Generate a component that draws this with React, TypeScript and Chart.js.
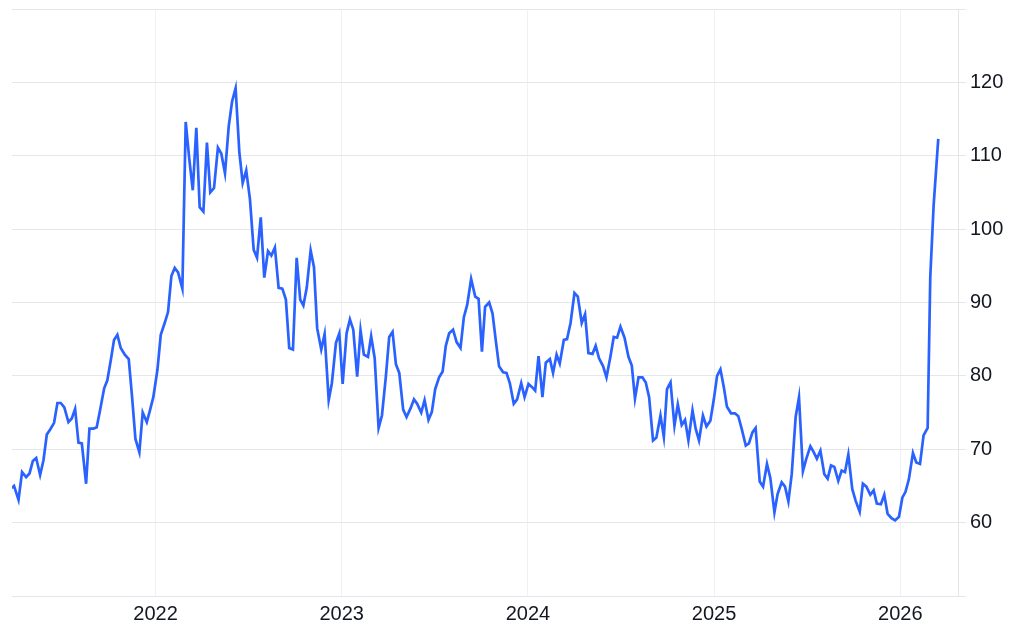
import React, { useEffect, useRef } from "react";
import { Chart, registerables } from "chart.js";

Chart.register(...registerables);

// Decimal-year timestamps of the weekly observations
const dates: number[] = [
  2021.228, 2021.240, 2021.264, 2021.283, 2021.305, 2021.323, 2021.341, 2021.359, 2021.380, 2021.398,
  2021.416, 2021.434, 2021.455, 2021.473, 2021.491, 2021.510, 2021.532, 2021.550, 2021.568, 2021.586,
  2021.604, 2021.627, 2021.645, 2021.666, 2021.684, 2021.702, 2021.724, 2021.741, 2021.760, 2021.777,
  2021.795, 2021.813, 2021.835, 2021.856, 2021.874, 2021.892, 2021.913, 2021.931, 2021.953, 2021.970,
  2021.988, 2022.010, 2022.028, 2022.049, 2022.067, 2022.085, 2022.103, 2022.121, 2022.144, 2022.162,
  2022.181, 2022.200, 2022.219, 2022.237, 2022.257, 2022.276, 2022.294, 2022.314, 2022.335, 2022.353,
  2022.373, 2022.393, 2022.411, 2022.430, 2022.450, 2022.468, 2022.487, 2022.507, 2022.527, 2022.545,
  2022.565, 2022.584, 2022.604, 2022.622, 2022.641, 2022.661, 2022.681, 2022.700, 2022.718, 2022.738,
  2022.758, 2022.777, 2022.794, 2022.812, 2022.833, 2022.851, 2022.868, 2022.890, 2022.908, 2022.930,
  2022.947, 2022.969, 2022.987, 2023.005, 2023.026, 2023.044, 2023.062, 2023.083, 2023.101, 2023.119,
  2023.141, 2023.158, 2023.177, 2023.198, 2023.216, 2023.237, 2023.255, 2023.273, 2023.291, 2023.309,
  2023.330, 2023.348, 2023.370, 2023.388, 2023.405, 2023.427, 2023.445, 2023.466, 2023.484, 2023.502,
  2023.523, 2023.542, 2023.559, 2023.577, 2023.598, 2023.617, 2023.638, 2023.656, 2023.674, 2023.695,
  2023.717, 2023.735, 2023.753, 2023.770, 2023.792, 2023.810, 2023.828, 2023.845, 2023.867, 2023.885,
  2023.903, 2023.924, 2023.942, 2023.964, 2023.982, 2024.003, 2024.021, 2024.039, 2024.057, 2024.078,
  2024.096, 2024.118, 2024.135, 2024.154, 2024.171, 2024.193, 2024.210, 2024.229, 2024.250, 2024.268,
  2024.289, 2024.307, 2024.325, 2024.347, 2024.364, 2024.382, 2024.404, 2024.422, 2024.443, 2024.461,
  2024.479, 2024.497, 2024.519, 2024.540, 2024.558, 2024.575, 2024.594, 2024.615, 2024.633, 2024.651,
  2024.672, 2024.690, 2024.712, 2024.730, 2024.747, 2024.766, 2024.787, 2024.805, 2024.826, 2024.844,
  2024.862, 2024.884, 2024.901, 2024.919, 2024.940, 2024.959, 2024.980, 2024.998, 2025.016, 2025.034,
  2025.052, 2025.069, 2025.091, 2025.112, 2025.130, 2025.148, 2025.170, 2025.187, 2025.206, 2025.223,
  2025.245, 2025.263, 2025.284, 2025.302, 2025.324, 2025.341, 2025.363, 2025.381, 2025.399, 2025.417,
  2025.438, 2025.456, 2025.477, 2025.495, 2025.517, 2025.535, 2025.552, 2025.571, 2025.592, 2025.610,
  2025.628, 2025.646, 2025.667, 2025.685, 2025.703, 2025.721, 2025.742, 2025.760, 2025.782, 2025.799,
  2025.818, 2025.839, 2025.857, 2025.874, 2025.896, 2025.914, 2025.932, 2025.953, 2025.972, 2025.993,
  2026.011, 2026.028, 2026.046, 2026.068, 2026.086, 2026.106, 2026.125, 2026.147, 2026.161, 2026.179,
  2026.204,
];

// Index values
const values: number[] = [
  64.7, 65.0, 63.1, 66.9, 66.2, 66.7, 68.4, 68.8, 66.5, 68.5,
  72.0, 72.7, 73.6, 76.3, 76.3, 75.7, 73.7, 74.2, 75.5, 70.9,
  70.8, 65.3, 72.8, 72.8, 73.0, 75.3, 78.3, 79.4, 82.2, 84.9,
  85.6, 83.8, 82.9, 82.3, 77.1, 71.4, 69.6, 75.0, 73.7, 75.3,
  77.1, 80.8, 85.6, 87.2, 88.7, 93.6, 94.7, 94.1, 91.9, 114.6,
  109.6, 105.3, 113.8, 103.0, 102.4, 111.8, 105.0, 105.6, 111.1, 110.3,
  107.6, 114.0, 117.4, 119.2, 110.5, 106.3, 108.0, 104.1, 97.2, 96.1,
  101.6, 93.4, 97.0, 96.4, 97.5, 92.0, 91.9, 90.4, 83.8, 83.6,
  96.1, 90.4, 89.6, 92.0, 97.1, 94.8, 86.5, 83.6, 85.7, 76.7,
  79.0, 84.5, 85.8, 78.9, 85.8, 87.7, 86.3, 79.9, 86.2, 82.9,
  82.6, 85.4, 82.4, 72.9, 74.6, 79.9, 85.3, 86.0, 81.6, 80.4,
  75.4, 74.4, 75.6, 76.8, 76.2, 75.0, 76.7, 74.0, 75.1, 78.2,
  79.8, 80.6, 84.1, 85.8, 86.3, 84.6, 83.8, 88.0, 89.7, 93.2,
  90.8, 90.5, 83.3, 89.4, 90.0, 88.5, 84.7, 81.3, 80.5, 80.4,
  79.0, 76.2, 76.8, 79.0, 77.1, 78.9, 78.5, 78.0, 82.7, 77.1,
  81.8, 82.3, 80.4, 82.9, 81.7, 84.9, 85.0, 87.2, 91.3, 90.8,
  87.2, 88.4, 83.1, 83.0, 84.1, 82.4, 81.3, 79.8, 82.6, 85.3,
  85.2, 86.7, 85.2, 82.6, 81.4, 76.9, 79.8, 79.8, 79.1, 77.1,
  71.2, 71.6, 74.6, 71.7, 78.2, 79.1, 73.2, 76.1, 73.3, 74.0,
  71.2, 75.3, 72.8, 71.2, 74.6, 73.1, 73.9, 76.7, 80.0, 80.9,
  78.5, 75.8, 74.9, 74.9, 74.5, 72.8, 70.5, 70.8, 72.3, 72.9,
  65.6, 64.9, 68.0, 66.1, 61.4, 63.9, 65.5, 64.9, 62.9, 66.6,
  74.4, 77.1, 67.0, 68.7, 70.4, 69.6, 68.7, 69.8, 66.6, 66.0,
  67.8, 67.6, 65.7, 67.1, 66.9, 69.3, 64.6, 63.0, 61.5, 65.3,
  64.9, 63.8, 64.4, 62.6, 62.5, 63.8, 61.2, 60.6, 60.3, 60.8,
  63.4, 64.2, 65.9, 69.5, 68.2, 68.0, 71.9, 72.9, 93.4, 103.2,
  112.3,
];

const yearTicks: number[] = [2022, 2023, 2024, 2025, 2026];
const valueTicks: number[] = [50, 60, 70, 80, 90, 100, 110, 120, 130];
const valueLabels: string[] = ["", "60", "70", "80", "90", "100", "110", "120", ""];

export default function App() {
  const canvasRef = useRef<HTMLCanvasElement | null>(null);

  useEffect(() => {
    if (!canvasRef.current) return;
    const points = dates.map((d, i) => ({ x: d, y: values[i] }));
    const font = { family: "'Liberation Sans', Arial, Helvetica, sans-serif", size: 20 };
    const chart = new Chart(canvasRef.current, {
      type: "line",
      data: {
        datasets: [
          {
            data: points,
            borderColor: "#2962ff",
            borderWidth: 2.7,
            pointRadius: 0,
            tension: 0,
            fill: false,
          },
        ],
      },
      options: {
        animation: false,
        responsive: true,
        maintainAspectRatio: false,
        layout: { padding: { left: 12, top: 9, right: 0, bottom: 0 } },
        plugins: { legend: { display: false }, tooltip: { enabled: false } },
        scales: {
          x: {
            type: "linear",
            min: 2021.229,
            max: 2026.31,
            afterBuildTicks: (scale: any) => {
              scale.ticks = yearTicks.map((v) => ({ value: v }));
            },
            afterFit: (scale: any) => {
              scale.height = 40;
              scale.paddingLeft = 0;
              scale.paddingRight = 0;
            },
            ticks: {
              color: "#131722",
              font,
              padding: 6,
              maxRotation: 0,
              autoSkip: false,
              callback: (v: any) => String(v),
            },
            grid: { color: "#eef1f6", drawTicks: false, lineWidth: 1 },
            border: { display: true, color: "#e3e5ea", width: 1 },
          },
          y: {
            type: "linear",
            position: "right",
            min: 50,
            max: 130,
            afterBuildTicks: (scale: any) => {
              scale.ticks = valueTicks.map((v) => ({ value: v }));
            },
            afterFit: (scale: any) => {
              scale.width = 66;
              scale.paddingTop = 0;
              scale.paddingBottom = 0;
            },
            ticks: {
              color: "#131722",
              font,
              padding: 4,
              callback: (v: any) => {
                const i = valueTicks.indexOf(Number(v));
                return i >= 0 ? valueLabels[i] : "";
              },
            },
            grid: { color: "#e6e7eb", drawTicks: true, tickLength: 8, lineWidth: 1 },
            border: { display: true, color: "#e3e5ea", width: 1 },
          },
        },
      },
    });
    return () => chart.destroy();
  }, []);

  return (
    <div style={{ position: "fixed", left: 0, top: 0, width: 1024, height: 636, background: "#ffffff" }}>
      <canvas ref={canvasRef} />
    </div>
  );
}
